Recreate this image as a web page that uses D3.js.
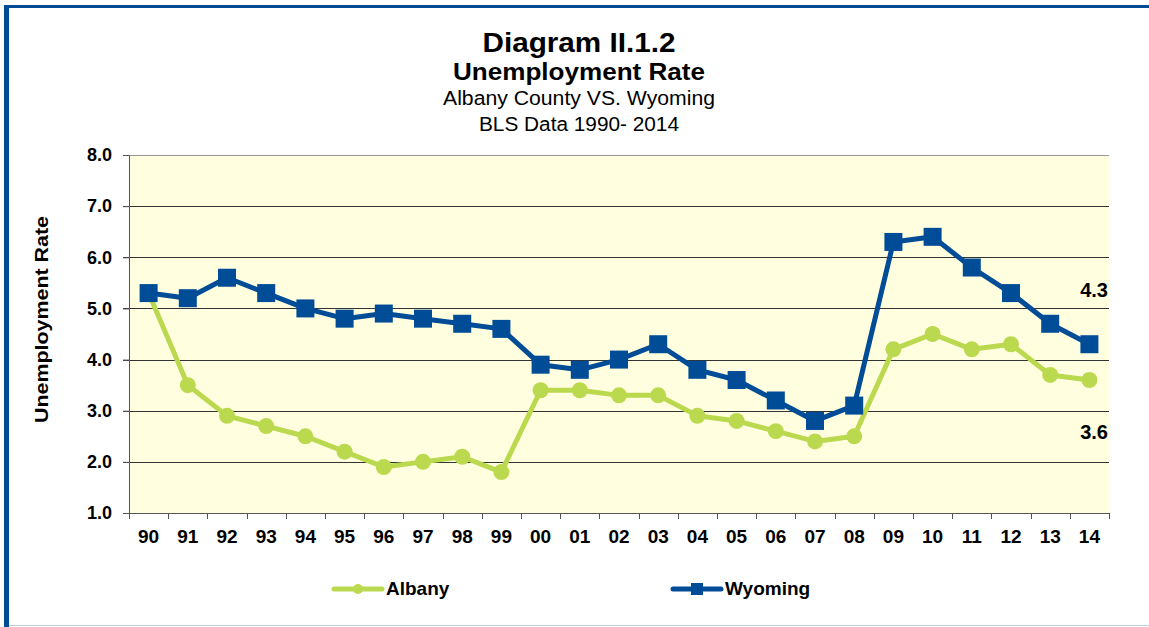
<!DOCTYPE html>
<html><head><meta charset="utf-8">
<script src="https://cdn.jsdelivr.net/npm/d3@7"></script>
<style>body{margin:0;background:#fff;}svg{display:block;font-family:"Liberation Sans",Arial,sans-serif;}</style>
</head><body>
<svg id="c" width="1149" height="627"></svg>
<script>
const years = ["90","91","92","93","94","95","96","97","98","99","00","01","02","03","04","05","06","07","08","09","10","11","12","13","14"];
const albany = [5.3,3.5,2.9,2.7,2.5,2.2,1.9,2.0,2.1,1.8,3.4,3.4,3.3,3.3,2.9,2.8,2.6,2.4,2.5,4.2,4.5,4.2,4.3,3.7,3.6];
const wyoming = [5.3,5.2,5.6,5.3,5.0,4.8,4.9,4.8,4.7,4.6,3.9,3.8,4.0,4.3,3.8,3.6,3.2,2.8,3.1,6.3,6.4,5.8,5.3,4.7,4.3];
const yTicks = [1,2,3,4,5,6,7,8];
const titles = ["Diagram II.1.2","Unemployment Rate","Albany County VS. Wyoming","BLS Data 1990- 2014"];

const svg = d3.select("#c");
const green = "#BBD94F", blue = "#004C97";
const L=129, R=1109, T=155, B=513;

// border
svg.append("line").attr("x1",4).attr("x2",1149).attr("y1",6.5).attr("y2",6.5).attr("stroke",blue).attr("stroke-width",3);
svg.append("line").attr("x1",6.5).attr("x2",6.5).attr("y1",5).attr("y2",627).attr("stroke",blue).attr("stroke-width",5);
svg.append("line").attr("x1",9).attr("x2",1149).attr("y1",625.5).attr("y2",625.5).attr("stroke","#b8cce4").attr("stroke-width",1);

const x = d3.scaleBand().domain(years).range([L,R]);
const y = d3.scaleLinear().domain([1,8]).range([B,T]);

svg.append("rect").attr("x",L).attr("y",T).attr("width",R-L).attr("height",B-T).attr("fill","#FFFFE0");

// grid
svg.append("g").selectAll("line").data(yTicks.slice(1)).join("line")
  .attr("x1",L-6).attr("x2",R).attr("y1",d=>Math.round(y(d))+0.5).attr("y2",d=>Math.round(y(d))+0.5)
  .attr("stroke",d=>d===8?"#999":"#333").attr("stroke-width",1);

// y axis
const ya = svg.append("g").attr("transform",`translate(${L},0)`)
  .call(d3.axisLeft(y).tickValues(yTicks).tickFormat(d3.format(".1f")).tickSize(6).tickPadding(11));
ya.select(".domain").attr("stroke","#555");
ya.selectAll("line").attr("stroke","#555");
ya.selectAll("text").attr("font-size",18).attr("font-weight","bold").attr("fill","#000").attr("font-family","Liberation Sans, Arial, sans-serif");

// x axis
const xa = svg.append("g").attr("transform",`translate(0,${B})`)
  .call(d3.axisBottom(x).tickSize(0).tickPadding(17));
xa.select(".domain").attr("stroke","#555");
xa.selectAll("text").attr("font-size",19).attr("font-weight","bold").attr("fill","#000").attr("font-family","Liberation Sans, Arial, sans-serif");
svg.append("g").selectAll("line").data(years.concat(["end"])).join("line")
  .attr("x1",(d,i)=>Math.round(L+i*x.step())+0.5).attr("x2",(d,i)=>Math.round(L+i*x.step())+0.5)
  .attr("y1",B).attr("y2",B+6).attr("stroke","#555");

const cx = d=>x(d)+x.bandwidth()/2;
const line = d3.line().x((d,i)=>cx(years[i])).y(d=>y(d));

// Albany
svg.append("path").datum(albany).attr("d",line).attr("fill","none").attr("stroke",green).attr("stroke-width",5).attr("stroke-linejoin","round");
svg.append("g").selectAll("circle").data(albany).join("circle")
  .attr("cx",(d,i)=>cx(years[i])).attr("cy",d=>y(d)).attr("r",8).attr("fill",green);

// Wyoming
svg.append("path").datum(wyoming).attr("d",line).attr("fill","none").attr("stroke",blue).attr("stroke-width",5).attr("stroke-linejoin","round");
svg.append("g").selectAll("rect").data(wyoming).join("rect")
  .attr("x",(d,i)=>cx(years[i])-9).attr("y",d=>y(d)-9).attr("width",18).attr("height",18).attr("fill",blue);

// end labels
svg.append("text").attr("x",R-1).attr("y",297).attr("text-anchor","end").attr("font-size",20).attr("font-weight","bold").text(d3.format(".1f")(wyoming[wyoming.length-1]));
svg.append("text").attr("x",R-1).attr("y",439).attr("text-anchor","end").attr("font-size",20).attr("font-weight","bold").text(d3.format(".1f")(albany[albany.length-1]));

// titles
const tcx = 579;
const tspec = [{y:52,fs:27,w:193,b:true},{y:80,fs:23,w:252,b:true},{y:105,fs:20,w:272,b:false},{y:131,fs:20,w:200,b:false}];
tspec.forEach((s,i)=>{
  svg.append("text").attr("x",tcx-s.w/2).attr("y",s.y).attr("font-size",s.fs)
    .attr("font-weight",s.b?"bold":"normal").attr("textLength",s.w).attr("lengthAdjust","spacingAndGlyphs").text(titles[i]);
});

// y title
svg.append("text").attr("transform","translate(48,423) rotate(-90)").attr("font-size",18).attr("font-weight","bold")
  .attr("textLength",207).attr("lengthAdjust","spacingAndGlyphs").text("Unemployment Rate");

// legend
const lg = [{n:"Albany",c:green,s:"circle",x:334},{n:"Wyoming",c:blue,s:"square",x:673}];
lg.forEach(d=>{
  const g = svg.append("g");
  g.append("line").attr("x1",d.x).attr("x2",d.x+48).attr("y1",589).attr("y2",589).attr("stroke",d.c).attr("stroke-width",5).attr("stroke-linecap","round");
  if(d.s==="circle") g.append("circle").attr("cx",d.x+24).attr("cy",589).attr("r",5).attr("fill",d.c);
  else g.append("rect").attr("x",d.x+18).attr("y",583).attr("width",12).attr("height",12).attr("fill",d.c);
  g.append("text").attr("x",d.x+52).attr("y",595).attr("font-size",19).attr("font-weight","bold").text(d.n);
});
</script>
</body></html>
